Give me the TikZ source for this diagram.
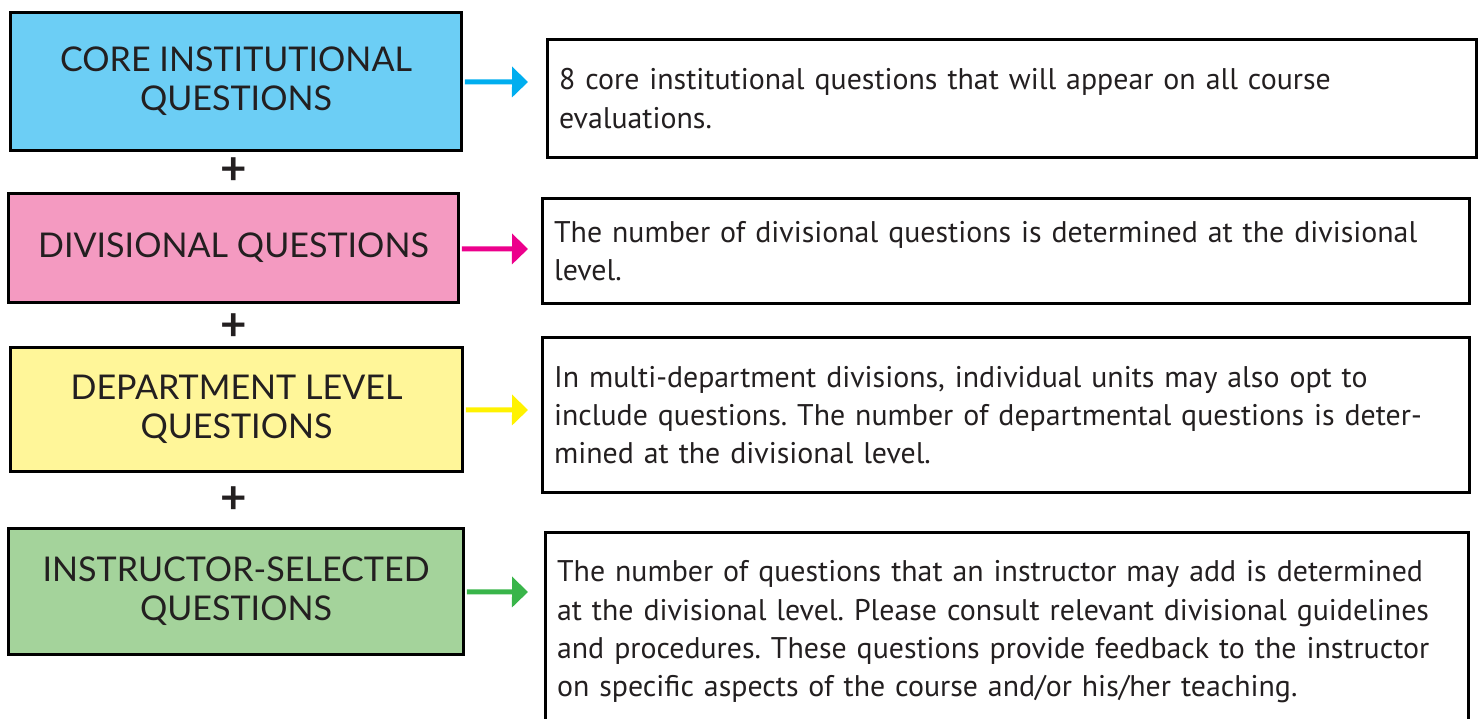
\documentclass[tikz,border=0pt]{standalone}
\usepackage{fontspec}
\setmainfont{PT Sans}
\newfontfamily\capsfont{Lato}
\usetikzlibrary{arrows.meta}
\frenchspacing

% colours
\definecolor{textgray}{RGB}{35,31,32}
\definecolor{corefill}{RGB}{108,206,245}
\definecolor{corearrow}{RGB}{0,174,239}
\definecolor{divfill}{RGB}{244,154,193}
\definecolor{divarrow}{RGB}{236,0,140}
\definecolor{deptfill}{RGB}{255,246,153}
\definecolor{deptarrow}{RGB}{255,242,0}
\definecolor{instrfill}{RGB}{164,211,155}
\definecolor{instrarrow}{RGB}{57,181,74}

\begin{document}
\begin{tikzpicture}[
    x=0.02cm, y=-0.02cm,
    leftbox/.style={draw=black, line width=0.06cm, align=center, text=textgray,
      font=\capsfont\fontsize{19.4}{22.2}\selectfont, inner sep=0pt},
    descbox/.style={draw=black, line width=0.06cm, align=left, text=textgray,
      font=\fontsize{17}{21.8}\selectfont, inner xsep=0.24cm, inner ysep=0pt},
    feed/.style={line width=0.1cm, shorten <=0.03cm,
      -{Triangle[length=0.32cm,width=0.6cm]}},
    joinplus/.style={text=textgray, font=\capsfont\bfseries\fontsize{26}{26}\selectfont,
      inner sep=0pt}]
  % page frame
  \useasboundingbox (0,0) rectangle (1481,719);
  % question groups
  \node[leftbox, fill=corefill, minimum width=9.04cm, minimum height=2.78cm]
    (core) at (236,81.5) {CORE INSTITUTIONAL\\QUESTIONS};
  \node[leftbox, fill=divfill, minimum width=9.02cm, minimum height=2.2cm]
    (div) at (233.5,248) {DIVISIONAL QUESTIONS};
  \node[leftbox, fill=deptfill, minimum width=9.06cm, minimum height=2.5cm]
    (dept) at (236.5,409.5) {DEPARTMENT LEVEL\\QUESTIONS};
  \node[leftbox, fill=instrfill, minimum width=9.12cm, minimum height=2.54cm]
    (instr) at (236,591.5) {INSTRUCTOR-SELECTED\\QUESTIONS};
  % plus signs
  \node[joinplus] (plusa) at (233.5,171) {+};
  \node[joinplus] (plusb) at (233.5,327) {+};
  \node[joinplus] (plusc) at (233.5,500.5) {+};
  % explanations
  \node[descbox, text width=18.12cm, minimum height=2.38cm] (coredesc) at (1012,98.5)
    {8 core institutional questions that will appear on all course\\evaluations.};
  \node[descbox, text width=18.08cm, minimum height=2.12cm] (divdesc) at (1006,251)
    {The number of divisional questions is determined at the divisional\\level.};
  \node[descbox, text width=18.08cm, minimum height=3.12cm] (deptdesc) at (1006,415)
    {In multi-department divisions, individual units may also opt to\\include questions. The number of departmental questions is deter-\\mined at the divisional level.};
  \node[descbox, text width=18.0cm, minimum height=4cm] (instrdesc) at (1007,632)
    {The number of questions that an instructor may add is determined\\at the divisional level. Please consult relevant divisional guidelines\\and procedures. These questions provide feedback to the instructor\\on specific aspects of the course and/or his/her teaching.};
  % arrow ends
  \coordinate (coretip) at (528,82);
  \coordinate (divtip) at (528,249);
  \coordinate (depttip) at (528,410);
  \coordinate (instrtip) at (528,592);
  % arrows
  \draw[feed, corearrow] (core) -- (coretip);
  \draw[feed, divarrow] (div) -- (divtip);
  \draw[feed, deptarrow] (dept) -- (depttip);
  \draw[feed, instrarrow] (instr) -- (instrtip);
\end{tikzpicture}
\end{document}
